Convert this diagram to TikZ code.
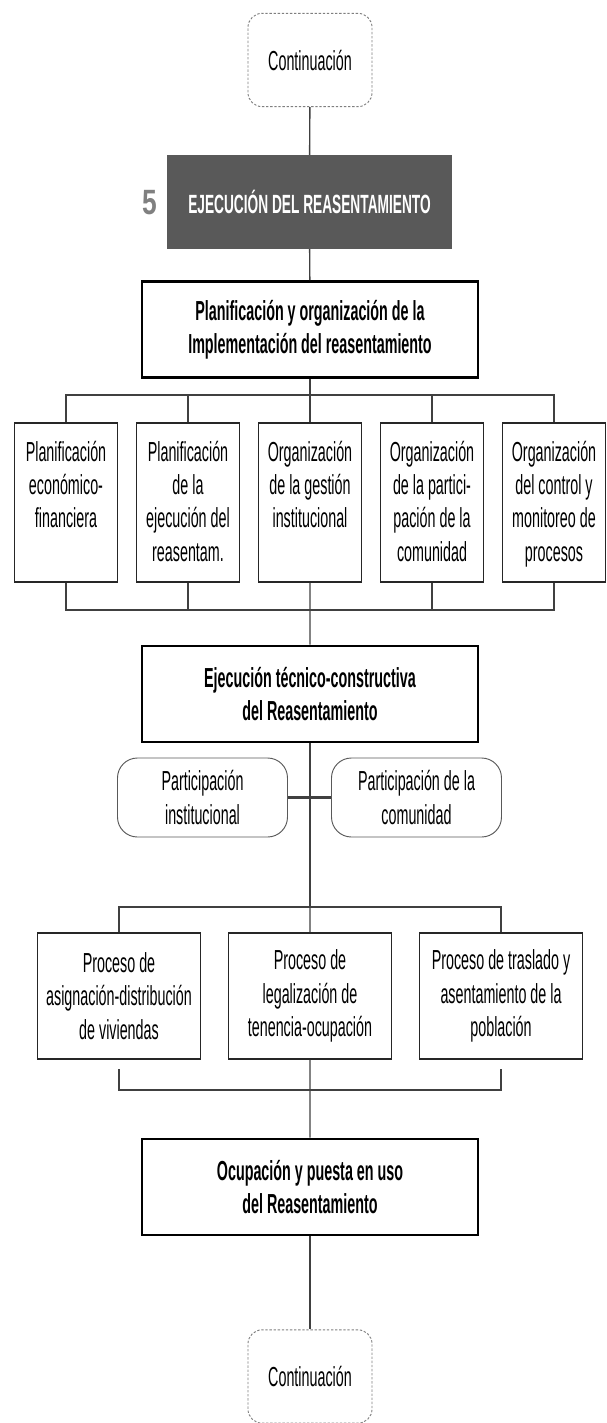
\documentclass[tikz,border=0pt]{standalone}
\usepackage{fontspec}
\setmainfont{Liberation Sans}[FakeStretch=0.52]
\newfontfamily\numfont{Liberation Sans}[FakeStretch=0.75]
\usepackage{xcolor}
\usetikzlibrary{shapes, arrows.meta, positioning, shadows}
\definecolor{darkbox}{HTML}{595959}
\definecolor{linegray}{HTML}{404040}
\definecolor{numgray}{HTML}{808080}
\definecolor{dashgray}{HTML}{7F7F7F}
\newcommand{\toptext}[1]{\parbox[t][3.7cm][t]{3cm}{\centering #1}}

\begin{document}
\begin{tikzpicture}[x=0.03cm, y=-0.03cm, node distance=3.66cm,
    every node/.style={font=\fontsize{23.5pt}{28.5pt}\selectfont, inner sep=0pt},
    contbox/.style={rectangle, rounded corners=12pt, draw=dashgray, dash pattern=on 2pt off 1.5pt, line width=0.8pt, minimum width=3.72cm, minimum height=2.8cm},
    titlebox/.style={rectangle, fill=darkbox, text=white, font=\fontsize{22.5pt}{26pt}\selectfont\bfseries, minimum width=8.55cm, minimum height=2.82cm},
    mainbox/.style={rectangle, draw, fill=white, line width=2.2pt, align=center, font=\fontsize{23.5pt}{28.5pt}\selectfont\bfseries, minimum width=10.08cm, minimum height=2.88cm, drop shadow={shadow xshift=0.8pt, shadow yshift=-0.9pt, fill=black, opacity=1}},
    planbox/.style={rectangle, draw=black!85, fill=white, line width=1.3pt, minimum width=3.09cm, minimum height=4.77cm, drop shadow={shadow xshift=0.5pt, shadow yshift=-0.6pt, fill=black!70, opacity=1}},
    partbox/.style={rectangle, rounded corners=17pt, draw=darkbox, line width=0.8pt, align=center, minimum width=5.1cm, minimum height=2.37cm},
    procbox/.style={rectangle, draw=black!85, fill=white, line width=1.3pt, align=center, minimum width=4.89cm, minimum height=3.78cm, drop shadow={shadow xshift=0.5pt, shadow yshift=-0.6pt, fill=black!70, opacity=1}},
    conn/.style={draw=linegray, line width=1.2pt}]

\useasboundingbox (0,0) rectangle (606,1423);

% Spine
\node [contbox] (top) at (310,60) {Continuación};
\node [titlebox] (title) at (309.5,202) {EJECUCIÓN DEL REASENTAMIENTO};
\node [font=\fontsize{30pt}{30pt}\numfont\bfseries, text=numgray] (num) at (150,203) {5};
\node [mainbox] (plan) at (310,329.5) {Planificación y organización de la\\Implementación del reasentamiento};

% Planning row
\node [planbox] (p1) at (66,502.5) {\toptext{Planificación\\económico-\\financiera}};
\node [planbox, right of=p1] (p2) {\toptext{Planificación\\de la\\ejecución del\\reasentam.}};
\node [planbox, right of=p2] (p3) {\toptext{Organización\\de la gestión\\institucional}};
\node [planbox, right of=p3] (p4) {\toptext{Organización\\de la partici-\\pación de la\\comunidad}};
\node [planbox, right of=p4] (p5) {\toptext{Organización\\del control y\\monitoreo de\\procesos}};

\node [mainbox] (ejec) at (310,694) {Ejecución técnico-constructiva\\del Reasentamiento};
\node [partbox] (inst) at (202.5,797.5) {Participación\\institucional};
\node [partbox] (comu) at (416.5,797.5) {Participación de la\\comunidad};

% Process row
\node [procbox] (asig) at (119,996) {Proceso de\\asignación-distribución\\de viviendas};
\node [procbox, right of=asig, node distance=5.73cm] (lega) {Proceso de\\legalización de\\tenencia-ocupación};
\node [procbox, right of=lega, node distance=5.73cm] (tras) {Proceso de traslado y\\asentamiento de la\\población};

\node [mainbox] (ocup) at (310,1187) {Ocupación y puesta en uso\\del Reasentamiento};
\node [contbox] (bottom) at (310,1376.5) {Continuación};

\coordinate (bus1) at (310,395);
\coordinate (bus2) at (310,610);
\coordinate (bus3) at (310,907);
\coordinate (bus4) at (310,1090);

% Connectors
\draw [conn] (top) -- (title);
\draw [conn] (title) -- (plan);
\draw [conn] (plan) -- (bus1);
\foreach \n in {p1,p2,p3,p4,p5} \draw [conn] (bus1) -| (\n.north);
\foreach \n in {p1,p2,p4,p5} \draw [conn] (\n.south) |- (bus2);
\draw [conn] (p3) -- (ejec);
\draw [conn] (ejec) -- (bus3);
\draw [conn, line width=2pt] (inst) -- (comu);
\foreach \n in {asig,tras} \draw [conn] (bus3) -| (\n.north);
\draw [conn] (bus3) -- (lega);
\foreach \n in {asig,tras} \draw [conn, shorten <=8pt] (\n.south) |- (bus4);
\draw [conn] (lega) -- (ocup);
\draw [conn] (ocup) -- (bottom);

\end{tikzpicture}
\end{document}
